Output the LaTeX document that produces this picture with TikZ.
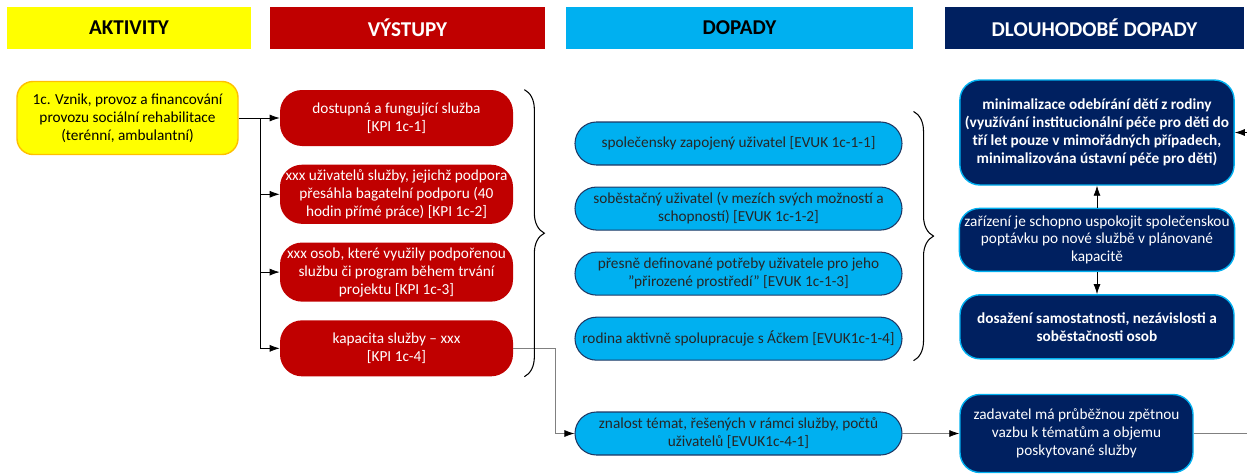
\documentclass[tikz,border=0pt]{standalone}
\usepackage{fontspec}
\setmainfont{Carlito}
\usetikzlibrary{arrows.meta, positioning, decorations.pathreplacing}
\definecolor{cakt}{HTML}{FFFF00}
\definecolor{cakte}{HTML}{FFC000}
\definecolor{cvys}{HTML}{C00000}
\definecolor{cdop}{HTML}{00B0F0}
\definecolor{cdope}{HTML}{1F3864}
\definecolor{cdlo}{HTML}{002060}
\tikzset{
    -{Latex[length=2mm,width=1.4mm]}, line width=0.7pt, node distance=3.6mm, % arrows on every connector
    box/.style={rounded corners=4.4mm, align=center, inner sep=1mm, font=\fontsize{8.7}{10.2}\selectfont},
    hdr/.style={minimum height=8.4mm, font=\fontsize{12}{14}\selectfont\bfseries},
    brc/.style={-, decorate, decoration={brace, amplitude=4mm}, line width=0.6pt},
    garr/.style={draw=gray, -{Latex[length=2mm,width=1.4mm,black]}}
}
\begin{document}
\begin{tikzpicture}[x=0.2mm, y=-0.2mm,
    akt/.style={box, fill=cakt, draw=cakte, line width=0.8pt, minimum width=44.2mm, minimum height=14.6mm, rounded corners=3.2mm},
    vys/.style={box, fill=cvys, text=white, minimum width=46.6mm, minimum height=11.2mm},
    dop/.style={box, fill=cdop, draw=cdope, line width=0.6pt, text=black!85, minimum width=65.4mm, minimum height=8.6mm, rounded corners=4.3mm},
    dlo/.style={box, fill=cdlo, draw=cdop, line width=0.8pt, text=white, minimum width=54.8mm, rounded corners=4mm}]
\useasboundingbox (0,0) rectangle (1247,474);

% headers
\node[hdr, fill=cakt, minimum width=48.8mm] (hA) at (129,28) {AKTIVITY};
\node[hdr, fill=cvys, text=white, minimum width=55mm] (hV) at (407.5,28) {VÝSTUPY};
\node[hdr, fill=cdop, minimum width=69.4mm] (hD) at (739.5,28) {DOPADY};
\node[hdr, fill=cdlo, text=white, minimum width=59.8mm] (hL) at (1094.5,28) {DLOUHODOBÉ DOPADY};

% aktivity
\node[akt] (a1) at (127.5,118) {1c. Vznik, provoz a financování\\provozu sociální rehabilitace\\(terénní, ambulantní)};

% vystupy
\node[vys] (r1) at (396.5,118) {dostupná a fungující služba\\{[KPI 1c-1]}};
\node[vys] (r2) [below=of r1] {xxx uživatelů služby, jejichž podpora\\přesáhla bagatelní podporu (40\\hodin přímé práce) [KPI 1c-2]};
\node[vys] (r3) [below=of r2] {xxx osob, které využily podpořenou\\službu či program během trvání\\projektu [KPI 1c-3]};
\node[vys] (r4) [below=of r3] {kapacita služby – xxx\\{[KPI 1c-4]}};

% dopady
\node[dop] (b1) at (738.5,143.5) {společensky zapojený uživatel [EVUK 1c-1-1]};
\node[dop] (b2) [below=4.2mm of b1] {soběstačný uživatel (v mezích svých možností a\\schopností) [EVUK 1c-1-2]};
\node[dop] (b3) [below=4.2mm of b2] {přesně definované potřeby uživatele pro jeho\\\symbol{34}přirozené prostředí\symbol{34} [EVUK 1c-1-3]};
\node[dop] (b4) [below=4.2mm of b3] {rodina aktivně spolupracuje s Áčkem [EVUK1c-1-4]};
\node[dop] (z1) at (738.5,433.5) {znalost témat, řešených v rámci služby, počtů\\uživatelů [EVUK1c-4-1]};

% dlouhodobe dopady
\node[dlo, minimum height=21mm, font=\fontsize{8.7}{10.2}\selectfont\bfseries] (d1) at (1097,132.5) {minimalizace odebírání dětí z rodiny\\(využívání institucionální péče pro děti do\\tří let pouze v mimořádných případech,\\minimalizována ústavní péče pro děti)};
\node[dlo, minimum height=12.6mm] (d2) [below=4.4mm of d1] {zařízení je schopno uspokojit společenskou\\poptávku po nové službě v plánované\\kapacitě};
\node[dlo, minimum height=12.8mm, font=\fontsize{8.7}{10.2}\selectfont\bfseries] (d3) [below=4.4mm of d2] {dosažení samostatnosti, nezávislosti a\\soběstačnosti osob};
\node[dlo, minimum width=46.6mm, minimum height=15.6mm] (zad) at (1076.5,433.5) {zadavatel má průběžnou zpětnou\\vazbu k tématům a objemu\\poskytované služby};

% connectors
\coordinate (tr) at (260,118);
\draw (a1) -- (r1);
\draw (tr) |- (r2);
\draw (tr) |- (r3);
\draw (tr) |- (r4);
\coordinate (k4) at ([xshift=8.4mm]r4.east);
\draw[garr] (r4) -- (k4) |- (z1);
\draw[garr] (z1) -- (zad);
\coordinate (outB) at ([xshift=10.8mm]zad.east);
\draw[gray, -] (zad) -- (outB);
\coordinate (outT) at ([xshift=2.6mm]d1.east);
\draw (outT) -- (d1);
\draw (d2) -- (d1);
\draw (d2) -- (d3);

% braces
\draw[brc] ([xshift=2.2mm]r1.north east) -- ([xshift=2.2mm]r4.south east);
\draw[brc] ([shift={(2.2mm,2mm)}]b1.north east) -- ([xshift=2.2mm]b4.south east);
\end{tikzpicture}
\end{document}
